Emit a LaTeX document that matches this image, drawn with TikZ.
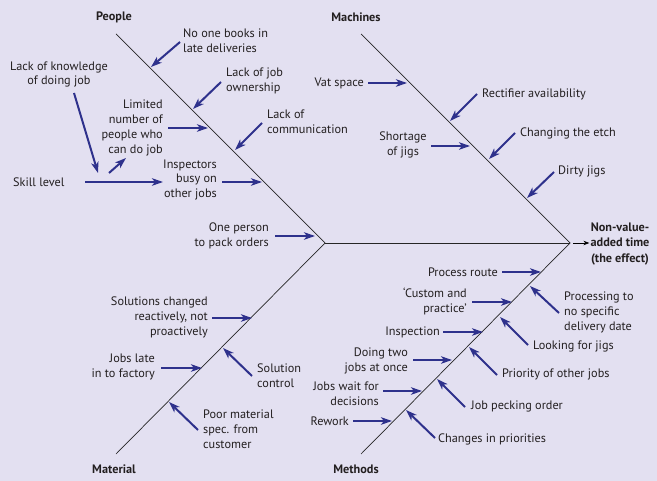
\documentclass[tikz,border=0pt]{standalone}
\usepackage{fontspec}
\setmainfont{PT Sans}
\usetikzlibrary{arrows.meta}
\definecolor{bg}{RGB}{227,224,241}
\definecolor{navy}{RGB}{46,49,140}
\definecolor{txt}{RGB}{35,31,32}
\begin{document}
\begin{tikzpicture}[x=1bp,y=-1bp,
 lbl/.style={font=\fontsize{12.3}{15}\selectfont, text=txt, inner sep=0pt},
 lft/.style={lbl,anchor=west,align=left},
 rgt/.style={lbl,anchor=east,align=right},
 ctr/.style={lbl,align=center},
 hd/.style={font=\bfseries\fontsize{12.3}{15.5}\selectfont, text=txt, inner sep=0pt},
 bone/.style={draw=black!85, line width=0.7bp},
 arr/.style={draw=navy, line width=2bp, -{Stealth[length=11bp,width=7.5bp,inset=3bp]}}
]
\fill[bg] (0,0) rectangle (657,481);
\useasboundingbox (0,0) rectangle (657,481);
% bones
\coordinate (hub) at (325,243);
\coordinate (head) at (570,243);
\coordinate (pTop) at (116,34);
\coordinate (mTop) at (361,34);
\coordinate (matBot) at (116,454);
\coordinate (metBot) at (361,454);
\draw[bone] (pTop) -- (hub) -- (matBot);
\draw[bone] (hub) -- (head);
\draw[bone] (mTop) -- (head) -- (metBot);
% headings
\node[hd] (hPeople) at (114,17) {People};
\node[hd] (hMach) at (356,17) {Machines};
\node[hd] (hMat) at (114,469) {Material};
\node[hd] (hMeth) at (356,469) {Methods};
\node[hd,align=center] (effect) at (620,244) {Non-value-\\added time\\(the effect)};
\draw[black, line width=0.7bp, -{Stealth[length=6bp,width=4.5bp]}] (head) ++(3,0) coordinate (eS) -- ([xshift=-1bp]effect.west |- head);
% People
\node[lft] (n1) at (183,40.5) {No one books in\\late deliveries};
\draw[arr] (180,42) coordinate (s1) -- (151,67) coordinate (t1);
\node[ctr] (n2) at (59,74.5) {Lack of knowledge\\of doing job};
\draw[arr] (74,93) coordinate (s2) -- (98,173) coordinate (t2);
\node[lft] (n3) at (226,80.5) {Lack of job\\ownership};
\draw[arr] (221,82) coordinate (s3) -- (193,109) coordinate (t3);
\node[rgt] (n4) at (163,128) {Limited\\number of\\people who\\can do job};
\draw[arr] (168,128) coordinate (s4) -- (208,128) coordinate (t4);
\draw[arr] (109,173) coordinate (s5) -- (126,158) coordinate (t5);
\node[lft] (n5) at (267,121.5) {Lack of\\communication};
\draw[arr] (262,123) coordinate (s6) -- (235,150) coordinate (t6);
\node[lft] (n6) at (13,182) {Skill level};
\node[rgt] (n7) at (217,180) {Inspectors\\busy on\\other jobs};
\draw[arr] (85,182) coordinate (s7) -- (163,182) coordinate (t7);
\draw[arr] (222,182) coordinate (s8) -- (262,182) coordinate (t8);
\node[rgt] (n8) at (269,235.5) {One person\\to pack orders};
\draw[arr] (275,236) coordinate (s9) -- (315,236) coordinate (t9);
% Machines
\node[rgt] (m1) at (364,83) {Vat space};
\draw[arr] (368,83) coordinate (s10) -- (407,83) coordinate (t10);
\node[lft] (m2) at (482,94) {Rectifier availability};
\draw[arr] (477,94) coordinate (s11) -- (450,121) coordinate (t11);
\node[ctr] (m3) at (403,145) {Shortage\\of jigs};
\draw[arr] (431,146) coordinate (s12) -- (470,146) coordinate (t12);
\node[lft] (m4) at (520,133) {Changing the etch};
\draw[arr] (515,133) coordinate (s13) -- (489,159) coordinate (t13);
\node[lft] (m5) at (558,171) {Dirty jigs};
\draw[arr] (554,172) coordinate (s14) -- (527,198) coordinate (t14);
% Material
\node[rgt] (a1) at (208,317.5) {Solutions changed\\reactively, not\\proactively};
\draw[arr] (212,318) coordinate (s15) -- (252,318) coordinate (t15);
\node[rgt] (a2) at (155,366.5) {Jobs late\\in to factory};
\draw[arr] (161,368) coordinate (s16) -- (202,368) coordinate (t16);
\node[lft] (a3) at (257,375.5) {Solution\\control};
\draw[arr] (252,376) coordinate (s17) -- (223,348) coordinate (t17);
\node[lft] (a4) at (203,429) {Poor material\\spec. from\\customer};
\draw[arr] (198,430) coordinate (s18) -- (169,402) coordinate (t18);
% Methods
\node[rgt] (d1) at (498,272) {Process route};
\draw[arr] (502,272) coordinate (s19) -- (541,272) coordinate (t19);
\node[lft] (d2) at (564,312) {Processing to\\no specific\\delivery date};
\draw[arr] (559,313) coordinate (s20) -- (530,286) coordinate (t20);
\node[rgt] (d3) at (467,301.5) {`Custom and\\practice'};
\draw[arr] (472,302) coordinate (s21) -- (512,302) coordinate (t21);
\node[rgt] (d4) at (440,332) {Inspection};
\draw[arr] (443,332) coordinate (s22) -- (483,332) coordinate (t22);
\node[lft] (d5) at (533,346) {Looking for jigs};
\draw[arr] (528,345) coordinate (s23) -- (500,317) coordinate (t23);
\node[rgt] (d6) at (408,360.5) {Doing two\\jobs at once};
\draw[arr] (413,360) coordinate (s24) -- (452,360) coordinate (t24);
\node[lft] (d7) at (502,374) {Priority of other jobs};
\draw[arr] (497,375) coordinate (s25) -- (469,347) coordinate (t25);
\node[rgt] (d8) at (379,394) {Jobs wait for\\decisions};
\draw[arr] (383,391) coordinate (s26) -- (422,391) coordinate (t26);
\node[lft] (d9) at (471,406) {Job pecking order};
\draw[arr] (465,407) coordinate (s27) -- (437,379) coordinate (t27);
\node[rgt] (d10) at (349,421) {Rework};
\draw[arr] (353,421) coordinate (s28) -- (392,421) coordinate (t28);
\node[lft] (d11) at (438,439) {Changes in priorities};
\draw[arr] (435,438) coordinate (s29) -- (406,410) coordinate (t29);
\end{tikzpicture}
\end{document}
